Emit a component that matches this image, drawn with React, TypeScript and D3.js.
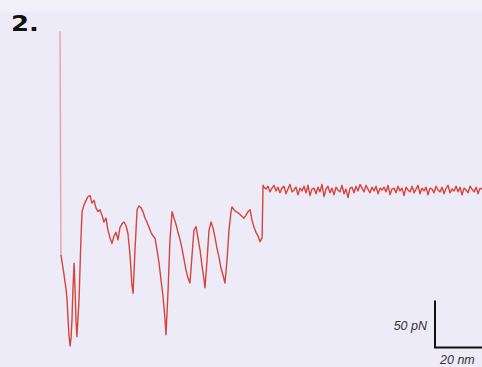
import { useEffect, useRef } from 'react'
import * as d3 from 'd3'

// unfolding trace: extension (nm) vs force (pN)
const traceNm = [
  0, 0.4, 0.9, 1.7, 2.6, 3.0, 3.4, 3.8, 4.3, 4.7, 5.1, 5.5, 6.0, 6.4, 6.8, 7.2, 8.1, 8.9, 9.4, 10.2,
  11.1, 11.9, 12.8, 13.6, 14.5, 15.3, 16.2, 17.0, 17.9, 18.7, 19.6, 20.4, 21.3, 22.1, 23.0, 23.8, 24.7,
  25.5, 26.4, 27.2, 28.1, 28.9, 29.8, 30.6, 31.1, 31.9, 32.8, 33.6, 34.5, 35.3, 36.2, 37.0, 37.9, 38.7,
  39.6, 40.4, 41.3, 42.1, 43.0, 43.8, 44.7, 45.1, 46.0, 46.8, 47.7, 48.5, 49.4, 50.2, 51.1, 51.9, 52.8,
  53.6, 54.5, 55.3, 56.2, 57.0, 57.9, 58.7, 59.6, 60.4, 61.3, 61.7, 62.6, 63.4, 64.3, 65.1, 66.0, 66.8,
  67.7, 68.5, 69.4, 70.2, 71.1, 71.9, 72.8, 73.2, 74.0, 74.9, 75.7, 76.6, 77.4, 78.3, 79.1, 80.0, 80.9,
  81.7, 82.6, 83.4, 84.3, 85.1, 86.0, 86.4,
]
const traceForce = [
  169, -69, -77, -90, -106, -117, -136, -154, -166, -157, -138, -106, -78, -106, -138, -156, -117, -53, -23, -16,
  -11, -7, -6, -14, -11, -19, -23, -21, -27, -34, -30, -43, -51, -57, -49, -45, -53, -40, -36, -34,
  -38, -46, -69, -101, -110, -64, -21, -17, -19, -23, -30, -34, -40, -45, -49, -51, -64, -77, -96, -112,
  -138, -154, -106, -53, -23, -30, -37, -45, -53, -62, -74, -85, -94, -99, -69, -43, -39, -51, -64, -80,
  -96, -104, -74, -43, -34, -40, -51, -62, -72, -83, -91, -99, -74, -43, -23, -18, -21, -23, -24, -26,
  -28, -30, -27, -23, -21, -32, -40, -45, -49, -55, -51, 5,
]

// flat tail after the last rupture, sampled evenly
const tailStartNm = 86.8
const tailEndNm = 179.6
const tailForce = [
  3, 1, 4, -2, 2, 5, -1, 3, -3, 2, 4, -4, 1, 6, -2, 0, 3, -5, 2, -1, 4, -3, 5, -6, 1, 2, -4, 3, -2, 6,
  -7, 1, 4, -3, 2, -5, 3, 0, -2, 5, -4, 1, -8, 2, 3, -3, 4, -1, 6, 2, -2, 5, 1, -3, 3, -1, 4, -4, 2, 0,
  3, -2, 5, -5, 1, 2, -3, 4, -1, 2, -6, 3, 0, -2, 4, -3, 1, 5, -4, 2, -1, 3, -5, 2, 1, -3, 4, 0, -2, 3,
  -4, 2, 5, -3, 1, -1, 4, -2, 3, -5, 2, 0, -3, 4, 1, -2, 3, -4, 2, 1,
]

const scaleBarNm = 20
const scaleBarPn = 50
const panelLabel = '2.'

const W = 482
const H = 367

export default function App() {
  const ref = useRef<SVGSVGElement | null>(null)

  useEffect(() => {
    const svg = d3.select(ref.current)
    svg.selectAll('*').remove()

    const x = d3.scaleLinear().domain([0, 180]).range([60, 60 + 180 * 2.35])
    const y = d3.scaleLinear().domain([-170, 170]).range([190 + 170 * 0.94, 190 - 170 * 0.94])

    svg.append('rect').attr('width', W).attr('height', H).attr('fill', '#ecebf7')
    svg.append('rect').attr('width', W).attr('height', 12).attr('fill', '#f1f0f9')

    const pts: [number, number][] = traceNm.map((d, i) => [d, traceForce[i]])
    const step = (tailEndNm - tailStartNm) / (tailForce.length - 1)
    tailForce.forEach((f, i) => pts.push([tailStartNm + i * step, f]))

    const line = d3
      .line<[number, number]>()
      .x((d) => x(d[0]))
      .y((d) => y(d[1]))

    // the fast approach spike is drawn fainter, as in the scan
    svg
      .append('path')
      .attr('d', line(pts.slice(0, 2)))
      .attr('fill', 'none')
      .attr('stroke', '#e6a3a6')
      .attr('stroke-width', 1.4)

    svg
      .append('path')
      .attr('d', line(pts.slice(1)))
      .attr('fill', 'none')
      .attr('stroke', '#d6443d')
      .attr('stroke-width', 1.4)
      .attr('stroke-linejoin', 'round')

    // scale bar
    const bx = 435
    const by = 347.5
    const barW = x(scaleBarNm) - x(0)
    const barH = y(0) - y(scaleBarPn)
    svg
      .append('path')
      .attr('d', `M${bx},${by - barH}V${by}H${bx + barW}`)
      .attr('fill', 'none')
      .attr('stroke', '#111')
      .attr('stroke-width', 2)

    svg
      .append('text')
      .attr('x', bx - 8)
      .attr('y', 330)
      .attr('text-anchor', 'end')
      .attr('font-family', 'Liberation Sans, Arial, sans-serif')
      .attr('font-style', 'italic')
      .attr('font-size', 12.5)
      .attr('fill', '#333')
      .text(`${scaleBarPn} pN`)

    svg
      .append('text')
      .attr('x', bx + 5)
      .attr('y', 364)
      .attr('font-family', 'Liberation Sans, Arial, sans-serif')
      .attr('font-style', 'italic')
      .attr('font-size', 12.5)
      .attr('fill', '#333')
      .text(`${scaleBarNm} nm`)

    svg
      .append('text')
      .attr('transform', 'translate(11,31) scale(1.18,1)')
      .attr('font-family', 'DejaVu Sans, sans-serif')
      .attr('font-weight', 900)
      .attr('font-size', 22)
      .attr('fill', '#111')
      .text(panelLabel)
  }, [])

  return (
    <svg
      ref={ref}
      width={W}
      height={H}
      style={{ position: 'fixed', left: 0, top: 0, display: 'block' }}
    />
  )
}
